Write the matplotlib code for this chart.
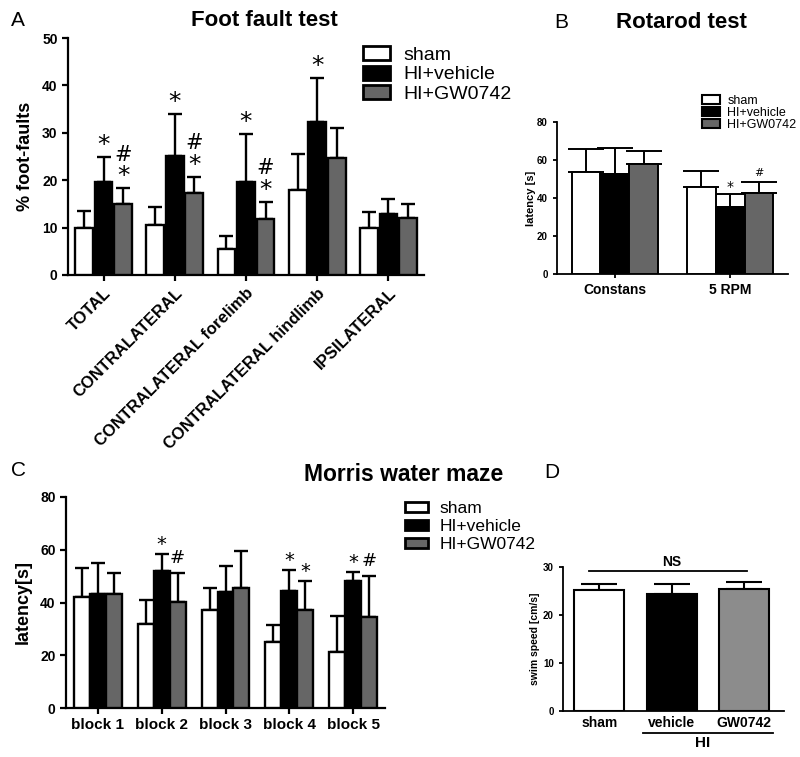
import numpy as np
import matplotlib
matplotlib.use('Agg')
from matplotlib import pyplot as plt
from matplotlib.patches import Patch

plt.rcParams['font.family'] = ['Liberation Sans', 'DejaVu Sans']

# --- A: foot fault test (% foot-faults, mean + SD)
ff_groups = ['TOTAL', 'CONTRALATERAL', 'CONTRALATERAL forelimb',
             'CONTRALATERAL hindlimb', 'IPSILATERAL']
ff_sham = [10.0, 10.5, 5.5, 17.9, 9.9]
ff_sham_err = [3.5, 3.9, 2.7, 7.6, 3.4]
ff_veh = [19.6, 25.1, 19.6, 32.3, 12.9]
ff_veh_err = [5.3, 8.9, 10.1, 9.3, 3.1]
ff_gw = [15.0, 17.3, 11.8, 24.7, 12.0]
ff_gw_err = [3.3, 3.4, 3.6, 6.4, 3.0]
# (group, series, symbol)
ff_marks = [(0, 1, '*'), (0, 2, '*'), (0, 2, '#'),
            (1, 1, '*'), (1, 2, '*'), (1, 2, '#'),
            (2, 1, '*'), (2, 2, '*'), (2, 2, '#'),
            (3, 1, '*')]

# --- B: rotarod (latency [s])
rr_groups = ['Constans', '5 RPM']
rr_sham = [53.7, 45.8]
rr_sham_err = [12.1, 8.4]
rr_veh = [52.6, 35.3]
rr_veh_err = [13.7, 6.8]
rr_gw = [57.9, 42.6]
rr_gw_err = [6.8, 5.8]
rr_marks = [(1, 1, '*'), (1, 2, '#')]

# --- C: Morris water maze (latency [s])
mw_groups = ['block 1', 'block 2', 'block 3', 'block 4', 'block 5']
mw_sham = [42.2, 31.9, 37.2, 25.2, 21.4]
mw_sham_err = [10.8, 9.1, 8.4, 6.3, 13.5]
mw_veh = [43.3, 52.0, 43.8, 44.5, 48.2]
mw_veh_err = [11.6, 6.4, 10.0, 7.8, 3.5]
mw_gw = [43.1, 40.1, 45.6, 37.2, 34.4]
mw_gw_err = [8.2, 11.2, 14.0, 11.1, 15.8]
mw_marks = [(1, 1, '*'), (1, 2, '#'), (3, 1, '*'), (3, 2, '*'),
            (4, 1, '*'), (4, 2, '#')]

# --- D: swim speed [cm/s]
ss_groups = ['sham', 'vehicle', 'GW0742']
ss_vals = [25.3, 24.3, 25.5]
ss_err = [1.2, 2.2, 1.4]

series_names = ['sham', 'HI+vehicle', 'HI+GW0742']
colors = ['white', 'black', '#666666']
d_colors = ['white', 'black', '#8c8c8c']

W, H = 800, 757
fig = plt.figure(figsize=(W / 100, H / 100), dpi=100)


def px_axes(l, t, r, b):
    return fig.add_axes([l / W, 1 - b / H, (r - l) / W, (b - t) / H])


def style(ax, lw, ticklen):
    for s in ['top', 'right']:
        ax.spines[s].set_visible(False)
    for s in ['left', 'bottom']:
        ax.spines[s].set_linewidth(lw)
    ax.tick_params(width=lw, length=ticklen, direction='out')


def grouped(ax, vals, errs, cols, width, offset, elw, cap):
    tops = []
    for i, (v, e, c) in enumerate(zip(vals, errs, cols)):
        x = np.arange(len(v)) + (i - 1) * offset
        ax.bar(x, v, width, color=c, edgecolor='black', linewidth=elw, zorder=3)
        ax.errorbar(x, v, yerr=[np.zeros(len(v)), e], fmt='none', ecolor='black',
                    elinewidth=elw, capsize=cap, capthick=elw, zorder=2)
        tops.append((x, np.array(v) + np.array(e)))
    return tops


def marks(ax, tops, spec, sym_style):
    for g, s, sym in spec:
        size, off = sym_style[sym]
        x, top = tops[s]
        ax.annotate(sym, xy=(x[g], top[g]), xytext=(0, off), textcoords='offset points',
                    ha='center', va='bottom', fontsize=size, family='DejaVu Sans',
                    annotation_clip=False)


def legend(size, x, y, hl, hh, pad, spacing, lw):
    handles = [Patch(facecolor=c, edgecolor='black', linewidth=lw, joinstyle='round')
               for c in colors]
    fig.legend(handles, series_names, loc='upper left', bbox_to_anchor=(x / W, 1 - y / H),
               frameon=False, fontsize=size, borderpad=0, borderaxespad=0,
               handlelength=hl, handleheight=hh, handletextpad=pad, labelspacing=spacing)


# ---------- A
axA = px_axes(68, 38, 424, 275)
style(axA, 1.6, 4)
topsA = grouped(axA, [ff_sham, ff_veh, ff_gw], [ff_sham_err, ff_veh_err, ff_gw_err],
                colors, 0.25, 0.275, 1.7, 5)
marks(axA, topsA, ff_marks, {'*': (18, 0), '#': (15, 17)})
axA.set_xlim(-0.5, 4.5)
axA.set_ylim(0, 50)
axA.set_yticks(range(0, 51, 10), [str(v) for v in range(0, 51, 10)], fontsize=10, fontweight='bold')
axA.set_xticks(range(len(ff_groups)), ff_groups, fontsize=12, fontweight='bold',
               rotation=45, ha='right', rotation_mode='anchor')
axA.set_ylabel('% foot-faults', fontsize=13, fontweight='bold', labelpad=6)
fig.text(264 / W, 1 - 21 / H, 'Foot fault test', fontsize=16, fontweight='bold', ha='center', va='center')
fig.text(18 / W, 1 - 21 / H, 'A', fontsize=15, ha='center', va='center')
legend(14, 363, 46, 1.39, 0.72, 0.67, 0.1, 2)

# ---------- B
axB = px_axes(557, 122, 788, 274)
style(axB, 1.3, 3)
topsB = grouped(axB, [rr_sham, rr_veh, rr_gw], [rr_sham_err, rr_veh_err, rr_gw_err],
                colors, 0.245, 0.25, 1.4, 13)
marks(axB, topsB, rr_marks, {'*': (10, 0), '#': (8, 3)})
axB.set_xlim(-0.5, 1.5)
axB.set_ylim(0, 80)
axB.set_yticks(range(0, 81, 20), [str(v) for v in range(0, 81, 20)], fontsize=7, fontweight='bold')
axB.set_xticks(range(len(rr_groups)), rr_groups, fontsize=10, fontweight='bold')
axB.set_ylabel('latency [s]', fontsize=8, fontweight='bold', labelpad=1)
fig.text(681 / W, 1 - 23 / H, 'Rotarod test', fontsize=16, fontweight='bold', ha='center', va='center')
fig.text(561 / W, 1 - 22 / H, 'B', fontsize=15, ha='center', va='center')
legend(9, 702, 95, 1.44, 0.64, 0.6, 0.0, 1.5)

# ---------- C
axC = px_axes(66, 497, 385, 708)
style(axC, 1.6, 4)
topsC = grouped(axC, [mw_sham, mw_veh, mw_gw], [mw_sham_err, mw_veh_err, mw_gw_err],
                colors, 0.25, 0.25, 1.7, 5)
marks(axC, topsC, mw_marks, {'*': (14, 0), '#': (13, 4)})
axC.set_xlim(-0.5, 4.5)
axC.set_ylim(0, 80)
axC.set_yticks(range(0, 81, 20), [str(v) for v in range(0, 81, 20)], fontsize=10, fontweight='bold')
axC.set_xticks(range(len(mw_groups)), mw_groups, fontsize=11, fontweight='bold')
axC.set_ylabel('latency[s]', fontsize=13, fontweight='bold', labelpad=6)
fig.text(404 / W, 1 - 475 / H, 'Morris water maze', fontsize=16.5, fontweight='bold', ha='center', va='center')
fig.text(18 / W, 1 - 471 / H, 'C', fontsize=15, ha='center', va='center')
legend(12.5, 405, 501, 1.3, 0.5, 0.7, 0.18, 2)

# ---------- D
axD = px_axes(563, 567, 784, 711)
style(axD, 1.3, 3)
xd = np.arange(len(ss_groups))
axD.bar(xd, ss_vals, 0.69, color=d_colors, edgecolor='black', linewidth=1.5, zorder=3)
axD.errorbar(xd, ss_vals, yerr=[np.zeros(3), ss_err], fmt='none', ecolor='black',
             elinewidth=1.5, capsize=13, capthick=1.5, zorder=2)
axD.set_xlim(-0.5, 2.55)
axD.set_ylim(0, 30)
axD.set_yticks(range(0, 31, 10), [str(v) for v in range(0, 31, 10)], fontsize=7, fontweight='bold')
axD.set_xticks(xd, ss_groups, fontsize=10, fontweight='bold')
axD.tick_params(axis='x', length=0)
axD.set_ylabel('swim speed [cm/s]', fontsize=7.5, fontweight='bold', labelpad=2)
axD.plot([-0.14, 2.04], [29.1, 29.1], color='black', lw=1.3, clip_on=False)
axD.text(1.0, 29.6, 'NS', fontsize=10, fontweight='bold', ha='center', va='bottom')
axD.plot([0.6, 2.4], [-0.153, -0.153], color='black', lw=1.3, clip_on=False,
         transform=axD.get_xaxis_transform())
axD.text(1.43, -0.175, 'HI', fontsize=11, fontweight='bold', ha='center', va='top',
         transform=axD.get_xaxis_transform())
fig.text(552 / W, 1 - 472 / H, 'D', fontsize=15, ha='center', va='center')

fig.savefig('out.png', dpi=100)
